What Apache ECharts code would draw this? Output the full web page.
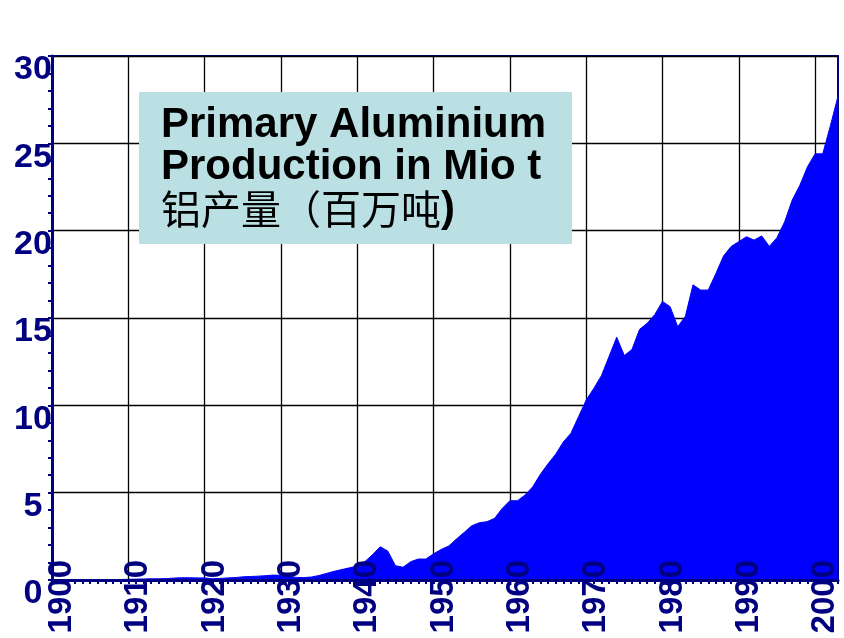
<!DOCTYPE html>
<html>
<head>
<meta charset="utf-8">
<script src="https://cdn.jsdelivr.net/npm/echarts@6/dist/echarts.min.js"></script>
<style>
  html, body { margin: 0; padding: 0; background: #ffffff; }
  #chart { width: 844px; height: 638px; }
</style>
</head>
<body>
<div id="chart"></div>
<script>
// Categories: years 1900 .. 2003
const startYear = 1900;
const endYear = 2003;
const years = [];
for (let y = startYear; y <= endYear; y++) years.push(String(y));

// Primary aluminium production, million tonnes
const production = [
  0.01, 0.01, 0.01, 0.01, 0.01, 0.01, 0.01, 0.02, 0.02, 0.03,   // 1900s
  0.04, 0.05, 0.06, 0.07, 0.07, 0.08, 0.11, 0.13, 0.13, 0.12,   // 1910s
  0.12, 0.07, 0.09, 0.12, 0.14, 0.18, 0.20, 0.22, 0.25, 0.28,   // 1920s
  0.27, 0.22, 0.15, 0.14, 0.17, 0.26, 0.38, 0.50, 0.60, 0.70,   // 1930s
  0.80, 1.05, 1.45, 1.90, 1.66, 0.82, 0.73, 1.05, 1.20, 1.20,   // 1940s
  1.50, 1.75, 1.95, 2.35, 2.72, 3.10, 3.28, 3.34, 3.53, 4.10,   // 1950s
  4.54, 4.54, 4.87, 5.34, 6.05, 6.65, 7.20, 7.90, 8.40, 9.35,   // 1960s
  10.30, 10.97, 11.70, 12.80, 13.90, 12.85, 13.20, 14.35, 14.70, 15.20, // 1970s
  15.95, 15.65, 14.50, 15.10, 16.90, 16.60, 16.60, 17.55, 18.55, 19.10, // 1980s
  19.37, 19.65, 19.46, 19.70, 19.10, 19.60, 20.50, 21.75, 22.60, 23.66, // 1990s
  24.40, 24.40, 26.00, 27.70                                    // 2000-2003
];

// Axis settings
const yMin = 0, yMax = 30, yStep = 5;
const labelEvery = 10; // years between x labels / grid lines

const titleLines = ['Primary Aluminium', 'Production in Mio t'];
const titleCn = '铝产量（百万吨';
const titleCnEnd = ')';

const NAVY = '#000080';
const FILL = '#0000ff';
const LATIN = '"Liberation Sans", Arial, Helvetica, sans-serif';

const chart = echarts.init(document.getElementById('chart'), null, { renderer: 'canvas' });

chart.setOption({
  animation: false,
  backgroundColor: '#ffffff',
  grid: {
    left: 52, right: 6, top: 56, bottom: 58,
    containLabel: false,
    show: true,
    borderColor: NAVY,
    borderWidth: 2,
    backgroundColor: 'transparent'
  },
  xAxis: [
    {
      type: 'category',
      data: years,
      boundaryGap: false,
      position: 'bottom',
      axisLine: { show: false },
      axisTick: { show: false },
      axisLabel: { show: false },
      splitLine: {
        show: true,
        interval: labelEvery - 1,
        lineStyle: { color: '#000000', width: 1.3 }
      },
      z: 0
    },
    {
      type: 'category',
      data: years,
      boundaryGap: false,
      position: 'bottom',
      axisLine: { show: true, lineStyle: { color: NAVY, width: 3 } },
      axisTick: {
        show: true, interval: 0, inside: false, length: 4,
        lineStyle: { color: NAVY, width: 2 }
      },
      axisLabel: {
        show: true,
        interval: labelEvery - 1,
        rotate: 90,
        margin: -20,
        color: NAVY,
        fontSize: 33,
        fontWeight: 'bold',
        fontFamily: LATIN,
        verticalAlign: 'top',
        lineHeight: 20
      },
      splitLine: { show: false },
      z: 10
    }
  ],
  yAxis: {
    type: 'value',
    min: yMin, max: yMax, interval: yStep,
    axisLine: { show: true, lineStyle: { color: NAVY, width: 3 } },
    axisTick: { show: true, length: 4, lineStyle: { color: NAVY, width: 2 } },
    minorTick: { show: true, splitNumber: 5, length: 4, lineStyle: { color: NAVY, width: 2 } },
    axisLabel: {
      show: true,
      margin: 19,
      align: 'center',
      verticalAlign: 'top',
      lineHeight: 28,
      color: NAVY,
      fontSize: 34,
      fontWeight: 'bold',
      fontFamily: LATIN
    },
    splitLine: { show: true, lineStyle: { color: '#000000', width: 1.3 } }
  },
  series: [{
    type: 'line',
    xAxisIndex: 0,
    data: production,
    showSymbol: false,
    symbol: 'none',
    smooth: false,
    lineStyle: { color: FILL, width: 1 },
    areaStyle: { color: FILL, opacity: 1 },
    z: 3
  }],
  graphic: [
    {
      type: 'rect',
      left: 139, top: 92,
      shape: { width: 433, height: 152 },
      style: { fill: '#bae0e4' },
      z: 20
    },
    {
      type: 'text',
      left: 161, top: 104,
      style: {
        text: '{a|' + titleLines[0] + '}\n{a|' + titleLines[1] + '}\n{c|' + titleCn + '}{a|' + titleCnEnd + '}',
        rich: {
          a: { fontFamily: LATIN, fontWeight: 'bold', fontSize: 42, lineHeight: 42, fill: '#000000' },
          c: { fontFamily: '"Noto Sans CJK SC", sans-serif', fontWeight: 'normal', fontSize: 40, lineHeight: 42, fill: '#000000' }
        }
      },
      z: 21
    }
  ]
});
</script>
</body>
</html>
